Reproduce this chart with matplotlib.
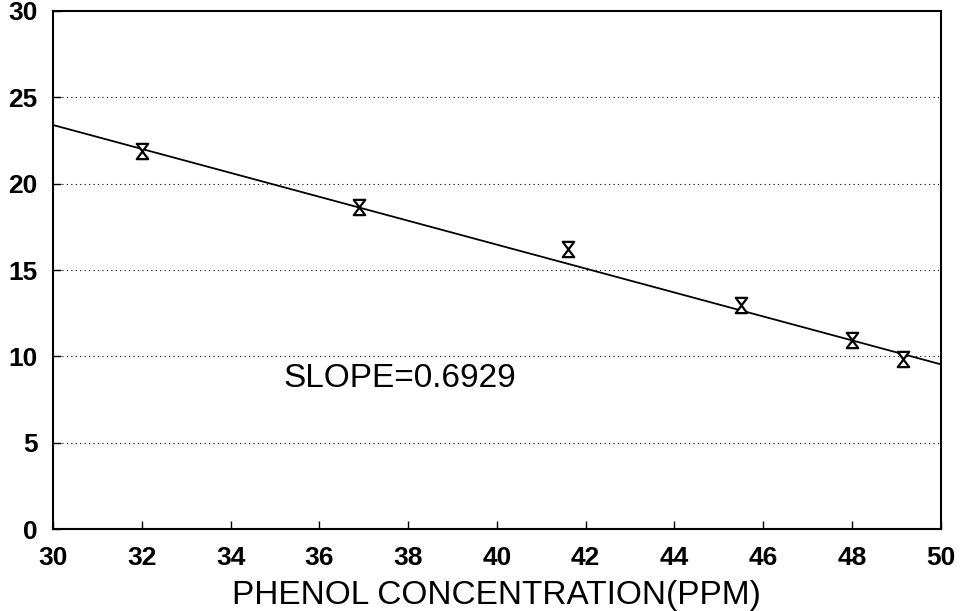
import matplotlib
matplotlib.use("Agg")
import matplotlib.pyplot as plt
import numpy as np
from matplotlib.path import Path

# Data
conc = [32.0, 36.9, 41.6, 45.5, 48.0, 49.15]
resp = [21.9, 18.65, 16.2, 13.0, 10.95, 9.85]
fit_intercept_at_30 = 23.4
fit_slope = -0.6929
xticks = [30, 32, 34, 36, 38, 40, 42, 44, 46, 48, 50]
yticks = [0, 5, 10, 15, 20, 25, 30]
xlabel = "PHENOL CONCENTRATION(PPM)"
annotation = "SLOPE=0.6929"

plt.rcParams['font.family'] = ['Liberation Sans', 'DejaVu Sans']

fig = plt.figure(figsize=(9.63, 6.11), dpi=100)
ax = fig.add_axes([0.055, 0.134, 0.922, 0.848])

ax.set_xlim(30, 50)
ax.set_ylim(0, 30)

# fitted line
xl = np.array([30, 50])
ax.plot(xl, fit_intercept_at_30 + fit_slope * (xl - 30), color='black', lw=1.3, zorder=3)

# hourglass markers
hg = Path([(-0.75, 1), (0.75, 1), (-0.75, -1), (0.75, -1), (-0.75, 1)],
          [Path.MOVETO, Path.LINETO, Path.LINETO, Path.LINETO, Path.CLOSEPOLY])
ax.plot(conc, resp, linestyle='none', marker=hg, markersize=11,
        markerfacecolor='white', markeredgecolor='black', markeredgewidth=1.6, zorder=4)

ax.set_xticks(xticks)
ax.set_yticks(yticks)
ax.set_xticklabels([str(t) for t in xticks], fontsize=19, fontweight='bold')
ax.set_yticklabels([str(t) for t in yticks], fontsize=19, fontweight='bold')
ax.tick_params(direction='in', length=6, width=1, pad=11)
ax.tick_params(axis='x', pad=12)

for y in yticks[1:-1]:
    ax.axhline(y, color='black', lw=0.8, linestyle=(0, (1, 3)), zorder=1)

for s in ax.spines.values():
    s.set_linewidth(1.5)

ax.set_xlabel(xlabel, fontsize=24, labelpad=7)
ax.text(35.2, 8.75, annotation, fontsize=24, va='center', ha='left')

fig.savefig("out.png", dpi=100)
